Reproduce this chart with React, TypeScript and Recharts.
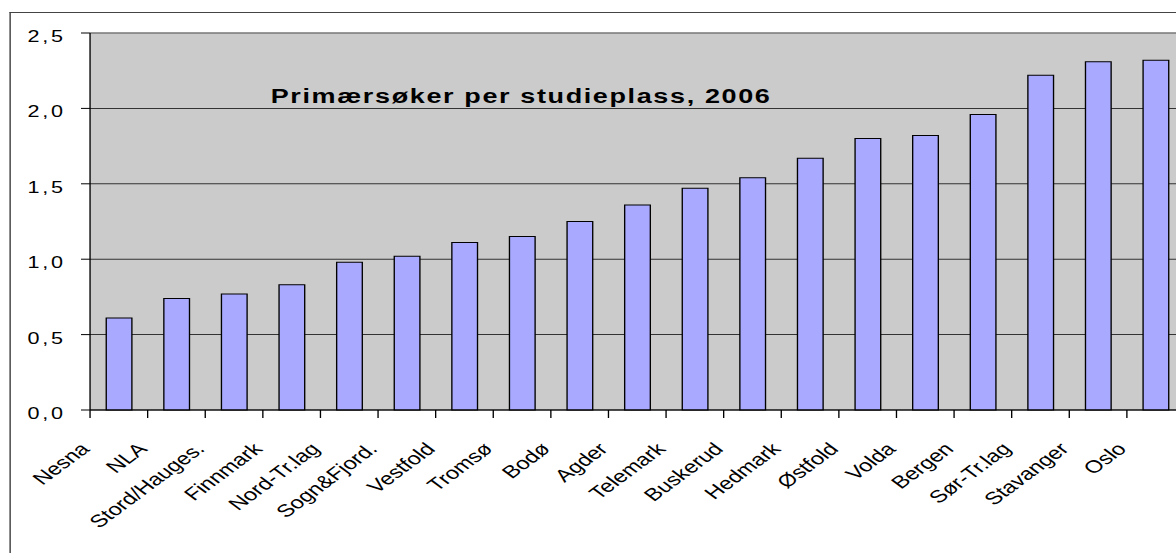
import React from "react";
import { Bar, BarChart, CartesianGrid, ReferenceLine, XAxis, YAxis } from "recharts";

const categories = [
  "Nesna",
  "NLA",
  "Stord/Hauges.",
  "Finnmark",
  "Nord-Tr.lag",
  "Sogn&Fjord.",
  "Vestfold",
  "Tromsø",
  "Bodø",
  "Agder",
  "Telemark",
  "Buskerud",
  "Hedmark",
  "Østfold",
  "Volda",
  "Bergen",
  "Sør-Tr.lag",
  "Stavanger",
  "Oslo",
];

const ratios = [
  0.61, 0.74, 0.77, 0.83, 0.98, 1.02, 1.11, 1.15, 1.25, 1.36, 1.47, 1.54, 1.67, 1.8, 1.82, 1.96,
  2.22, 2.31, 2.32,
];

const yTicks = [0, 0.5, 1, 1.5, 2, 2.5];

const title = "Primærsøker per studieplass, 2006";

// the original picture is stretched sideways, so draw narrow and scale x
const STRETCH = 1.35;
const FONT = "'Liberation Sans', Arial, sans-serif";
const PLOT_LEFT = 66.7;
const CAT_W = 42.67;

const data = categories.map((name, i) => ({ name, value: ratios[i] }));

function YTick(props: any) {
  const { x, y, payload } = props;
  const label = Number(payload.value).toFixed(1).replace(".", ",");
  return (
    <text
      x={x + 2}
      y={y}
      dy={9}
      textAnchor="end"
      fontFamily={FONT}
      fontSize={16}
      letterSpacing={2}
      fill="#000"
    >
      {label}
    </text>
  );
}

function XTick(props: any) {
  const { x, y, payload } = props;
  const left = x - CAT_W / 2;
  const tx = left + 0.5;
  const ty = y + 40;
  return (
    <g>
      <line x1={left} y1={y} x2={left} y2={y + 8} stroke="#000" strokeWidth={1} />
      <text
        x={tx}
        y={ty}
        textAnchor="end"
        fontFamily={FONT}
        fontSize={17.5}
        fill="#000"
        transform={`rotate(-45, ${tx}, ${ty})`}
      >
        {payload.value}
      </text>
    </g>
  );
}

export default function App() {
  return (
    <div
      style={{
        position: "fixed",
        left: 0,
        top: 0,
        width: 1176,
        height: 553,
        overflow: "hidden",
        background: "#fff",
      }}
    >
      <div
        style={{
          position: "absolute",
          left: 0,
          top: 0,
          width: 900,
          height: 553,
          transform: `scaleX(${STRETCH})`,
          transformOrigin: "0 0",
        }}
      >
        <div
          style={{
            position: "absolute",
            left: 6.67,
            top: 12,
            width: 1000,
            height: 800,
            borderLeft: "1px solid #333",
            borderTop: "1.5px solid #444",
          }}
        />
        <div style={{ position: "absolute", left: 0, top: 0 }}>
          <BarChart
            width={900}
            height={553}
            data={data}
            margin={{ top: 33, right: 22.6, left: PLOT_LEFT - 60, bottom: 43 }}
            barSize={19}
          >
            <CartesianGrid
              horizontal
              vertical={false}
              stroke="#333"
              fill="#CBCBCB"
              fillOpacity={1}
            />
            <ReferenceLine y={2.5} stroke="#999" strokeWidth={1} />
            <XAxis
              dataKey="name"
              interval={0}
              height={100}
              tickSize={0}
              tickMargin={0}
              tickLine={false}
              axisLine={{ stroke: "#000" }}
              tick={<XTick />}
            />
            <YAxis
              type="number"
              domain={[0, 2.5]}
              ticks={yTicks}
              width={60}
              tickSize={6.7}
              tickMargin={13.3}
              stroke="#000"
              tickLine={{ stroke: "#000" }}
              axisLine={{ stroke: "#000" }}
              tick={<YTick />}
            />
            <Bar
              dataKey="value"
              fill="#A9AAFF"
              stroke="#000"
              strokeWidth={1}
              isAnimationActive={false}
            />
          </BarChart>
        </div>
        <div
          style={{
            position: "absolute",
            left: 186,
            top: 86,
            width: 400,
            textAlign: "center",
            fontFamily: FONT,
            fontWeight: "bold",
            fontSize: 20,
            lineHeight: "20px",
            letterSpacing: 1.2,
            whiteSpace: "nowrap",
            color: "#000",
          }}
        >
          {title}
        </div>
      </div>
    </div>
  );
}
